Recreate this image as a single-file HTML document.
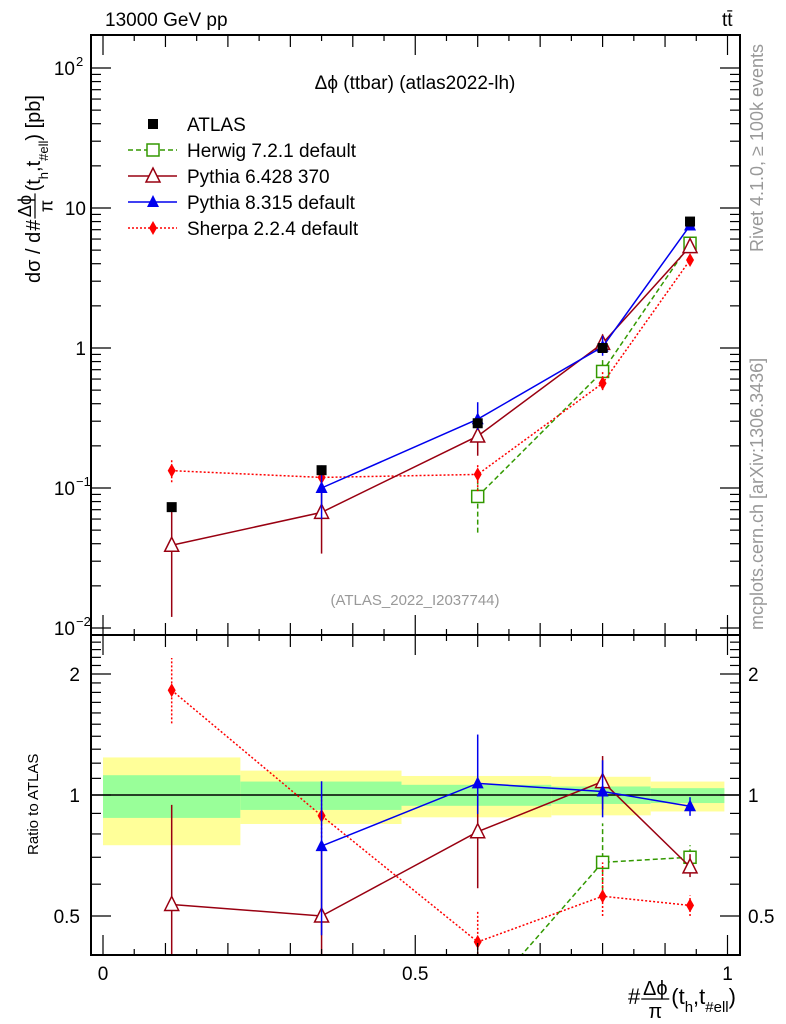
<!DOCTYPE html>
<html><head><meta charset="utf-8"><style>
html,body{margin:0;background:#fff;overflow:hidden;width:786px;height:1024px;}
svg{display:block;font-family:"Liberation Sans",sans-serif;}
</style></head><body>
<svg id="c" width="786" height="1024" viewBox="0 0 786 1024" xmlns="http://www.w3.org/2000/svg">
<defs>
<clipPath id="cm"><rect x="91" y="35" width="649" height="600"/></clipPath>
<clipPath id="cr"><rect x="91" y="635" width="649" height="320"/></clipPath>
</defs>
<rect x="0" y="0" width="786" height="1024" fill="#fff"/>
<text x="105" y="26" font-size="19">13000 GeV pp</text>
<text x="722" y="26" font-size="19">tt̄</text>
<text x="415" y="89" font-size="19" text-anchor="middle">Δϕ (ttbar) (atlas2022-lh)</text>
<text x="415" y="605" font-size="15" fill="#999" text-anchor="middle">(ATLAS_2022_I2037744)</text>
<text transform="translate(763,252) rotate(-90)" font-size="18" fill="#999">Rivet 4.1.0, ≥ 100k events</text>
<text transform="translate(763,630) rotate(-90)" font-size="18" fill="#999">mcplots.cern.ch [arXiv:1306.3436]</text>
<text transform="translate(38,855) rotate(-90)" font-size="15">Ratio to ATLAS</text>
<g id="ytitle" transform="translate(40,283) rotate(-90)"></g>
<g id="xtitle" transform="translate(628,1004)"></g>
<g id="g"></g>
</svg>
<script>
const xs=[0.11,0.35,0.6,0.8,0.94];
const atlas=[0.073,0.134,0.29,1.0,8.0];
const herwig=[null,null,0.087,0.68,5.6];
const herwigLo=[null,null,0.048,0.58,5.2];
const herwigHi=[null,null,0.12,0.85,6.0];
const py6=[0.039,0.067,0.235,1.08,5.3];
const py6Lo=[0.012,0.034,0.17,0.92,5.0];
const py6Hi=[0.069,0.1,0.29,1.25,5.7];
const py8=[null,0.1,0.31,1.02,7.5];
const py8Lo=[null,0.06,0.26,0.88,7.1];
const py8Hi=[null,0.145,0.41,1.22,7.9];
const sherpa=[0.133,0.119,0.125,0.56,4.25];
const sherpaLo=[0.11,0.105,0.095,0.5,4.0];
const sherpaHi=[0.16,0.135,0.15,0.68,4.5];
const binEdges=[0,0.22,0.478,0.718,0.877,0.995];
const bandYelLo=[0.75,0.847,0.88,0.89,0.91];
const bandYelHi=[1.24,1.15,1.115,1.11,1.08];
const bandGrnLo=[0.877,0.918,0.94,0.95,0.955];
const bandGrnHi=[1.12,1.08,1.06,1.05,1.04];

const NS="http://www.w3.org/2000/svg";
const G=document.getElementById('g');
function X(v){return 103+624.5*v;}
function Y(v){return 348-140*Math.log10(v);}
function R(v){return 795-402*Math.log10(v);}
function el(t,a,p){const e=document.createElementNS(NS,t);for(const k in a)e.setAttribute(k,a[k]);(p||G).appendChild(e);return e;}

function buildTitle(p,pre,post,fs,ffs,sfs){
  let x=0;
  function txt(s,f,dy){const t=el('text',{x:x,y:dy,'font-size':f},p);t.textContent=s;return t;}
  if(pre){const t=txt(pre,fs,0);x+=t.getComputedTextLength()+1;}
  const h=txt('#',fs,0);x+=h.getComputedTextLength()+1;
  const w=ffs*1.4;
  const a=el('text',{x:x+w/2,y:-9,'font-size':ffs,'text-anchor':'middle'},p);a.textContent='Δϕ';
  el('line',{x1:x,x2:x+w,y1:-5,y2:-5,stroke:'#000','stroke-width':1.2},p);
  const b=el('text',{x:x+w/2,y:ffs*0.7,'font-size':ffs,'text-anchor':'middle'},p);b.textContent='π';
  x+=w+2;
  const parts=[['(t',fs,0],['h',sfs,8],[',t',fs,0],['#ell',sfs,8],[post,fs,0]];
  parts.forEach(q=>{if(!q[0])return;const t=txt(q[0],q[1],q[2]);x+=t.getComputedTextLength();});
}
buildTitle(document.getElementById('ytitle'),'dσ / d ',') [pb]',20,18,13);
buildTitle(document.getElementById('xtitle'),'',')',22,20,15);

const gm=el('g',{'clip-path':'url(#cm)'});


const gr=el('g',{'clip-path':'url(#cr)'});



for(let i=0;i<5;i++){
  const y=el('rect',{x:X(binEdges[i]),y:R(bandYelHi[i]),width:X(binEdges[i+1])-X(binEdges[i]),height:R(bandYelLo[i])-R(bandYelHi[i]),fill:'#ffff99'},gr);
  
  
  const g2=el('rect',{x:X(binEdges[i]),y:R(bandGrnHi[i]),width:X(binEdges[i+1])-X(binEdges[i]),height:R(bandGrnLo[i])-R(bandGrnHi[i]),fill:'#99ff99'},gr);
  
  
}
el('line',{x1:91,x2:740,y1:R(1),y2:R(1),stroke:'#000','stroke-width':1.5},gr);

function marker(type,x,y,col,p){
  let m;
  if(type==='sq') m=el('rect',{x:x-5,y:y-5,width:10,height:10,fill:col},p);
  else if(type==='osq') m=el('rect',{x:x-6,y:y-6,width:12,height:12,fill:'#fff',stroke:col,'stroke-width':1.5},p);
  else if(type==='otri') m=el('polygon',{points:`${x},${y-8} ${x-7},${y+6} ${x+7},${y+6}`,fill:'#fff',stroke:col,'stroke-width':1.5},p);
  else if(type==='tri') m=el('polygon',{points:`${x},${y-7} ${x-6},${y+5} ${x+6},${y+5}`,fill:col},p);
  else m=el('polygon',{points:`${x},${y-7} ${x-4},${y} ${x},${y+7} ${x+4},${y}`,fill:col},p);
  return m;
}
function series(name,vals,lo,hi,col,dash,mk){
  for(const ratio of [false,true]){
    const p=ratio?gr:gm;
    const F=ratio?R:Y;
    const v=vals.map((d,i)=>d==null?null:(ratio?d/atlas[i]:d));
    const l=lo.map((d,i)=>d==null?null:(ratio?d/atlas[i]:d));
    const h=hi.map((d,i)=>d==null?null:(ratio?d/atlas[i]:d));
    const pts=[];v.forEach((d,i)=>{if(d!=null)pts.push(X(xs[i])+','+F(d));});
    const pl=el('polyline',{points:pts.join(' '),fill:'none',stroke:col,'stroke-width':1.5,'stroke-dasharray':dash},p);
    
    
    v.forEach((d,i)=>{if(d==null)return;
      const e=el('line',{x1:X(xs[i]),x2:X(xs[i]),y1:F(l[i]),y2:F(h[i]),stroke:col,'stroke-width':1.5,'stroke-dasharray':dash},p);
      
      
      const m=marker(mk,X(xs[i]),F(d),col,p);
      
      
    });
  }
}
series('herwig',herwig,herwigLo,herwigHi,'#339900','5,3','osq');
series('sherpa',sherpa,sherpaLo,sherpaHi,'#ff0000','2,2','dia');
series('pythia6',py6,py6Lo,py6Hi,'#990011','','otri');
series('pythia8',py8,py8Lo,py8Hi,'#0000ee','','tri');
atlas.forEach((d,i)=>{
  const m=marker('sq',X(xs[i]),Y(d),'#000',gm);
  
  
});

const leg=[['ATLAS','#000','','sq',false],['Herwig 7.2.1 default','#339900','5,3','osq',true],['Pythia 6.428 370','#990011','','otri',true],['Pythia 8.315 default','#0000ee','','tri',true],['Sherpa 2.2.4 default','#ff0000','2,2','dia',true]];
leg.forEach((L,i)=>{
  const y=124+26*i;
  const g=el('g',{});
  
  
  if(L[4])el('line',{x1:128,x2:177,y1:y,y2:y,stroke:L[1],'stroke-width':1.5,'stroke-dasharray':L[2]},g);
  marker(L[3],153,y,L[1],g);
  const t=el('text',{x:187,y:y+7,'font-size':19},g);t.textContent=L[0];
});

for(const [t,b] of [[35,635],[635,955]]){
  const f=el('rect',{x:91,y:t,width:649,height:b-t,fill:'none',stroke:'#000','stroke-width':2});
  
  
  for(let v=0;v<=1.0001;v+=0.05){
    const r=Math.round(v*100);const L=r%50===0?20:(r%10===0?12:6);
    el('line',{x1:X(v),x2:X(v),y1:b,y2:b-L,stroke:'#000','stroke-width':1.2});
    el('line',{x1:X(v),x2:X(v),y1:t,y2:t+L,stroke:'#000','stroke-width':1.2});
  }
}
for(let e=-2;e<=2;e++){for(let k=1;k<10;k++){const v=k*Math.pow(10,e);const y=Y(v);if(y<35||y>635)continue;const L=k===1?20:10;
  el('line',{x1:91,x2:91+L,y1:y,y2:y,stroke:'#000','stroke-width':1.2});el('line',{x1:740,x2:740-L,y1:y,y2:y,stroke:'#000','stroke-width':1.2});}}
const ylab=[['10','2',100],['10','',10],['1','',1],['10','−1',0.1],['10','−2',0.01]];
ylab.forEach(a=>{const t=el('text',{x:a[1]?75:86,y:Y(a[2])+7,'font-size':19,'text-anchor':'end'});t.textContent=a[0];
  
  
  if(a[1]){const s=el('text',{x:76,y:Y(a[2])-2,'font-size':13});s.textContent=a[1];}});
for(let v=0.4;v<=2.5;v+=0.1){const y=R(v);if(y<636||y>954)continue;const L=[0.5,1,2].some(q=>Math.abs(q-v)<1e-6)?20:10;
  el('line',{x1:91,x2:91+L,y1:y,y2:y,stroke:'#000','stroke-width':1.2});el('line',{x1:740,x2:740-L,y1:y,y2:y,stroke:'#000','stroke-width':1.2});}
[['2',2],['1',1],['0.5',0.5]].forEach(a=>{
  const t=el('text',{x:80,y:R(a[1])+7,'font-size':19,'text-anchor':'end'});t.textContent=a[0];
  
  
  const t2=el('text',{x:748,y:R(a[1])+7,'font-size':19});t2.textContent=a[0];
  
  
});
[['0',0],['0.5',0.5],['1',1]].forEach(a=>{const t=el('text',{x:X(a[1]),y:980,'font-size':19,'text-anchor':'middle'});t.textContent=a[0];
  
  });
</script>
</body></html>
